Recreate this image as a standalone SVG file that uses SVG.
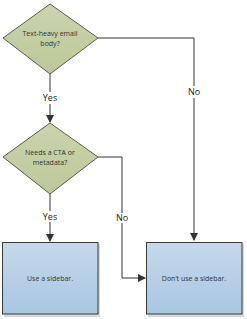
<svg xmlns="http://www.w3.org/2000/svg" width="247" height="319" viewBox="0 0 247 319">
<style>
.d{fill:url(#gd);stroke:#5a5e4a;stroke-width:1}
.b{fill:url(#gb);stroke:#3a3a3a;stroke-width:1}
.sh{fill:#d8d8d8}
.t{font-family:"Open Sans","Liberation Sans",sans-serif;font-size:7px;fill:#333;text-anchor:middle}
.l{font-family:"Open Sans","Liberation Sans",sans-serif;font-size:9px;fill:#222;text-anchor:middle}
.c{fill:none;stroke:#333;stroke-width:1}
</style>
<defs>
<linearGradient id="gd" x1="0" y1="0" x2="0" y2="1"><stop offset="0" stop-color="#cbd4ae"/><stop offset="1" stop-color="#bcc898"/></linearGradient>
<linearGradient id="gb" x1="0" y1="0" x2="0" y2="1"><stop offset="0" stop-color="#c6d9ec"/><stop offset="1" stop-color="#a8c6e2"/></linearGradient>
<marker id="a" markerWidth="8" markerHeight="8" refX="7" refY="4" orient="auto" markerUnits="userSpaceOnUse"><path d="M0,0 L8,4 L0,8 Z" fill="#333"/></marker>
</defs>
<g id="connectors">
<path class="c" d="M98,38 H194 V240" marker-end="url(#a)"/>
<path class="c" d="M50,74 V92"/>
<path class="c" d="M50,104 V122" marker-end="url(#a)"/>
<path class="c" d="M98,157 H122 V213"/>
<path class="c" d="M122,223 V278 H145" marker-end="url(#a)"/>
<path class="c" d="M50,194 V211"/>
<path class="c" d="M50,222 V241" marker-end="url(#a)"/>
<rect x="188" y="86" width="13" height="12" fill="#fff"/>
<text class="l" x="194" y="95">No</text>
<text class="l" x="50" y="101">Yes</text>
<text class="l" x="122" y="221">No</text>
<text class="l" x="50" y="220">Yes</text>
</g>
<g id="n1">
<polygon class="d" points="50,4 98,38 50,74 3,38"/>
<text class="t" x="50" y="36">Text-heavy email</text>
<text class="t" x="50" y="46">body?</text>
</g>
<g id="n2">
<polygon class="d" points="50,123 98,157 50,194 3,157"/>
<text class="t" x="50" y="155">Needs a CTA or</text>
<text class="t" x="50" y="165">metadata?</text>
</g>
<g id="n3">
<rect class="sh" x="4" y="244" width="96" height="73"/>
<rect class="b" x="2.5" y="242.5" width="95.5" height="71.5"/>
<text class="t" x="50" y="281">Use a sidebar.</text>
</g>
<g id="n4">
<rect class="sh" x="148" y="244" width="96" height="73"/>
<rect class="b" x="146.5" y="242.5" width="95.5" height="71.5"/>
<text class="t" x="194" y="281">Don’t use a sidebar.</text>
</g>
</svg>
